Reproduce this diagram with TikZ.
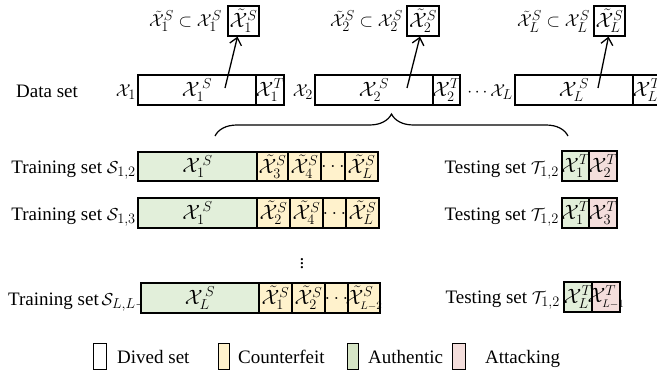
\documentclass[tikz,border=0pt]{standalone}
\usepackage{fontspec}
\setmainfont{Liberation Serif}
\usetikzlibrary{decorations.pathreplacing,arrows.meta}
\definecolor{authg}{HTML}{E2EFDA}
\definecolor{cntry}{HTML}{FFF2CC}
\definecolor{attkp}{HTML}{F4DEDC}
\definecolor{legg}{HTML}{D6E5C6}
\newcommand{\cX}{\mathcal{X}}
\newcommand{\tX}{\tilde{\mathcal{X}}}
\newcommand{\cellat}[7]{%
  \pgfmathsetmacro{\cellw}{#5-#3}\pgfmathsetmacro{\cellh}{#6-#4}%
  \node[#1, minimum width=\cellw pt, minimum height=\cellh pt] (#2) at ({(#3+#5)/2},{(#4+#6)/2}) {\makebox[0pt]{#7}};}
\begin{document}
\begin{tikzpicture}[x=1pt,y=-1pt,
  font=\fontsize{19}{22}\selectfont,
  box/.style={draw, line width=1.3pt, inner sep=0pt, font=\fontsize{21}{24}\selectfont},
  plainbox/.style={box},
  auth/.style={box, fill=authg},
  cntr/.style={box, fill=cntry},
  attk/.style={box, fill=attkp},
  legbox/.style={draw, line width=1pt, inner sep=0pt},
  lbl/.style={inner sep=0pt},
  arr/.style={line width=1.3pt, -{Straight Barb[length=7pt,width=12pt,line width=1.3pt]}}]
\useasboundingbox (0,0) rectangle (657,372);

% top subsets
\cellat{plainbox}{t1}{228}{6}{259}{36}{$\tX_1^S$}
\cellat{plainbox}{t2}{407}{6}{439}{36}{$\tX_2^S$}
\cellat{plainbox}{tL}{594}{6}{625}{36}{$\tX_L^S$}
\node[lbl, anchor=base east] (tl1) at (222,27) {$\tX_1^S\subset\cX_1^S$};
\node[lbl, anchor=base east] (tl2) at (403,27) {$\tX_2^S\subset\cX_2^S$};
\node[lbl, anchor=base east] (tlL) at (590,27) {$\tX_L^S\subset\cX_L^S$};

% data set row
\node[lbl, anchor=base] (ds) at (47,97) {Data set};
\node[lbl, anchor=base east] (x1) at (136,96) {$\cX_1$};
\cellat{plainbox}{d1s}{138}{75}{256}{105}{$\cX_1^{\,S}$}
\cellat{plainbox}{d1t}{256}{75}{284}{105}{$\cX_1^T$}
\node[lbl, anchor=base east] (x2) at (313,96) {$\cX_2$};
\cellat{plainbox}{d2s}{315}{75}{433}{105}{$\cX_2^{\,S}$}
\cellat{plainbox}{d2t}{433}{75}{460}{105}{$\cX_2^T$}
\node[lbl, anchor=base east] (xL) at (513,96) {$\cdots\cX_L$};
\cellat{plainbox}{dLs}{515}{75}{633}{105}{$\cX_L^{\,S}$}
\cellat{plainbox}{dLt}{633}{75}{661}{105}{$\cX_L^T$}

% arrows
\coordinate (a1) at (225,88);
\coordinate (a2) at (407,88);
\coordinate (aL) at (598,88);
\draw[arr] (a1) -- ([xshift=-6pt]t1.south);
\draw[arr] (a2) -- ([xshift=-3pt]t2.south);
\draw[arr] (aL) -- ([xshift=-1pt]tL.south);

% brace
\coordinate (b1) at (215,136);
\coordinate (b2) at (568,136);
\draw[line width=1.2pt, decorate, decoration={brace, amplitude=22pt}] (b1) -- (b2);

% training row 1
\node[lbl, anchor=base east] (tr1) at (136,173) {Training set $\mathcal{S}_{1,2}$};
\cellat{auth}{r1a}{138}{152}{257}{181}{$\cX_1^{\,S}$}
\cellat{cntr}{r1b}{257}{152}{288}{181}{$\tX_3^S$}
\cellat{cntr}{r1c}{288}{152}{321}{181}{$\tX_4^S$}
\cellat{cntr}{r1d}{321}{152}{345}{181}{$\ldots$}
\cellat{cntr}{r1e}{345}{152}{378}{181}{$\tX_L^S$}
\node[lbl, anchor=base east] (te1) at (559,173) {Testing set $\mathcal{T}_{1,2}$};
\cellat{auth}{s1a}{562}{151}{589}{181}{$\cX_1^T$}
\cellat{attk}{s1b}{589}{151}{617}{181}{$\cX_2^T$}

% training row 2
\node[lbl, anchor=base east] (tr2) at (136,220) {Training set $\mathcal{S}_{1,3}$};
\cellat{auth}{r2a}{138}{198}{257}{228}{$\cX_1^{\,S}$}
\cellat{cntr}{r2b}{257}{198}{290}{228}{$\tX_2^S$}
\cellat{cntr}{r2c}{290}{198}{323}{228}{$\tX_4^S$}
\cellat{cntr}{r2d}{323}{198}{346}{228}{$\ldots$}
\cellat{cntr}{r2e}{346}{198}{379}{228}{$\tX_L^S$}
\node[lbl, anchor=base east] (te2) at (559,220) {Testing set $\mathcal{T}_{1,2}$};
\cellat{auth}{s2a}{562}{198}{589}{228}{$\cX_1^T$}
\cellat{attk}{s2b}{589}{198}{617}{228}{$\cX_3^T$}

% dots
\node[lbl] (vd) at (302,261) {$\vdots$};

% training row 3
\node[lbl, anchor=base west] (tr3) at (8,305) {Training set$\,\mathcal{S}_{L,L-1}$};
\cellat{auth}{r3a}{141}{283}{259}{313}{$\cX_L^{\,S}$}
\cellat{cntr}{r3b}{259}{283}{292}{313}{$\tX_1^S$}
\cellat{cntr}{r3c}{292}{283}{325}{313}{$\tX_2^S$}
\cellat{cntr}{r3d}{325}{283}{348}{313}{$\ldots$}
\cellat{cntr}{r3e}{348}{283}{380}{313}{$\tX_{\scriptscriptstyle L-2}^S$}
\node[lbl, anchor=base east] (te3) at (560,303) {Testing set $\mathcal{T}_{1,2}$};
\cellat{auth}{s3a}{564}{282}{592}{312}{$\cX_L^T$}
\cellat{attk}{s3b}{592}{282}{620}{312}{$\cX_{\scriptscriptstyle L-1}^T$}

% legend
\cellat{legbox}{lg1}{93}{343}{106}{369}{}
\node[lbl, anchor=base west] (lt1) at (117,363) {Dived set};
\cellat{legbox, fill=cntry}{lg2}{218}{343}{229}{369}{}
\node[lbl, anchor=base west] (lt2) at (238,363) {Counterfeit};
\cellat{legbox, fill=legg}{lg3}{347}{343}{358}{369}{}
\node[lbl, anchor=base west] (lt3) at (368,363) {Authentic};
\cellat{legbox, fill=attkp}{lg4}{452}{343}{465}{369}{}
\node[lbl, anchor=base west] (lt4) at (485,363) {Attacking};
\end{tikzpicture}
\end{document}
